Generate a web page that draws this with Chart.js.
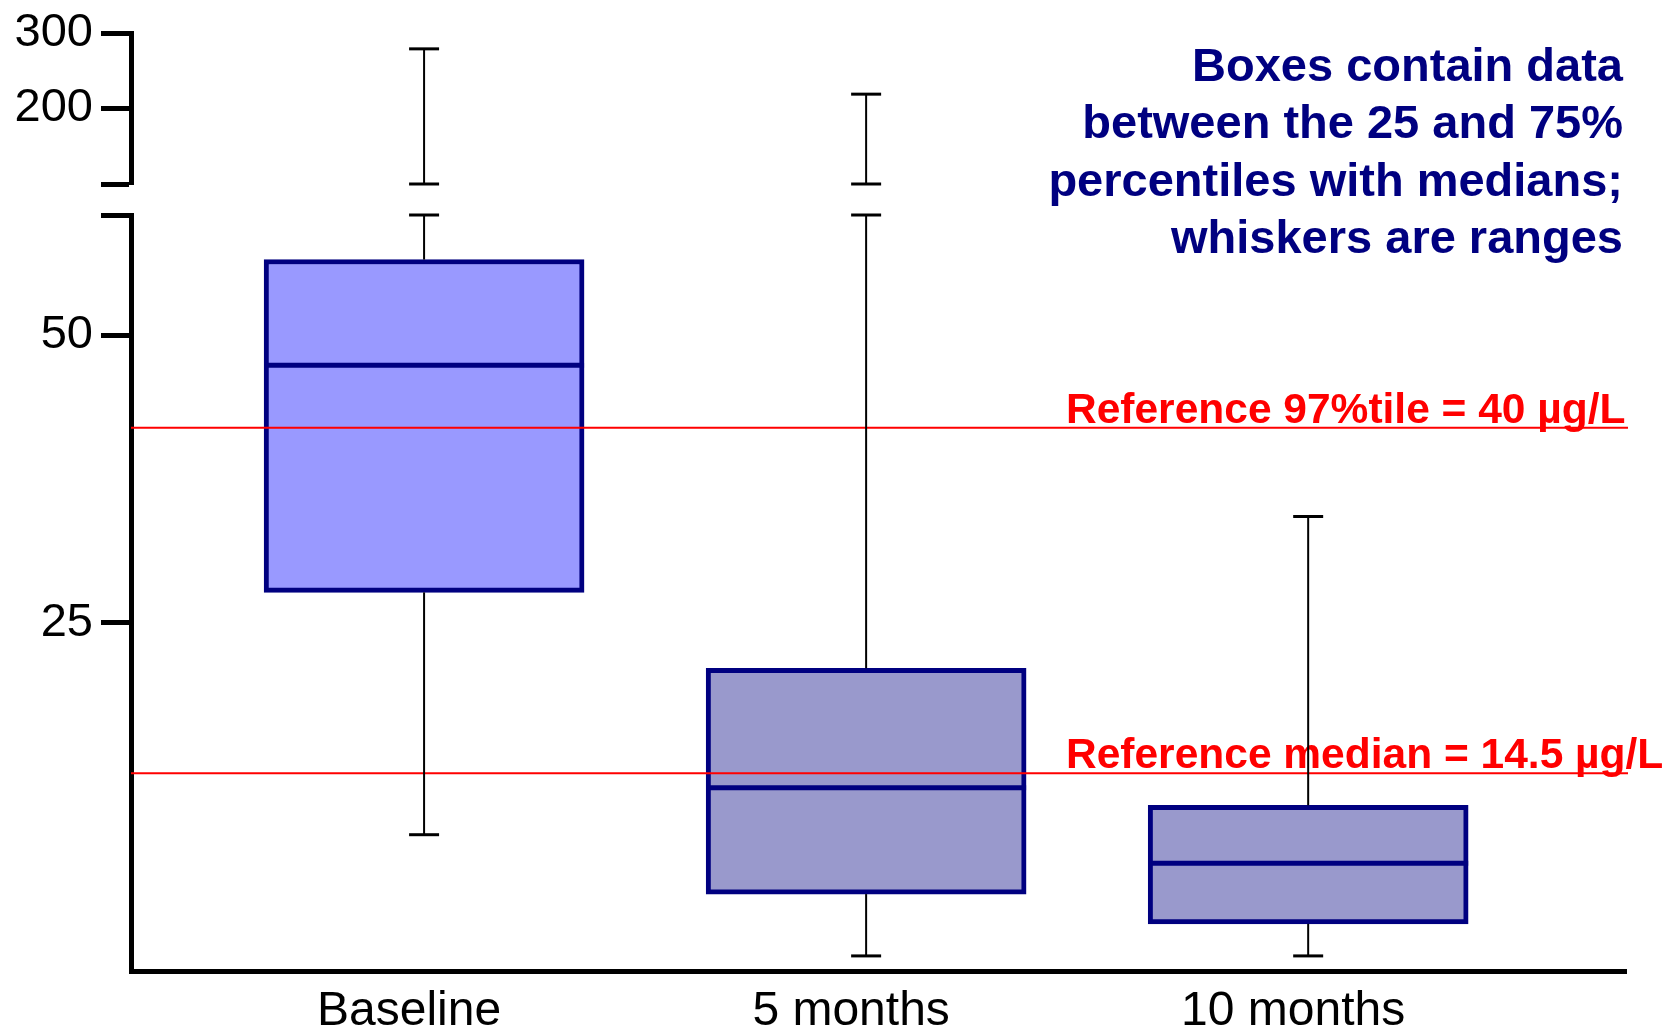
<!DOCTYPE html>
<html>
<head>
<meta charset="utf-8">
<script src="https://cdn.jsdelivr.net/npm/chart.js@4.4.0/dist/chart.umd.min.js"></script>
<style>
    html, body { margin: 0; padding: 0; background: #fff; }
</style>
</head>
<body>
<canvas id="chartBoxes" width="1680" height="1030"></canvas>
<script>
// Data (µg/L)
var categories = ['Baseline', '5 months', '10 months'];
var mins = [15.0, 11.2, 11.2];
var q1 = [26.9, 13.0, 12.1];
var medians = [46.5, 16.8, 14.0];
var q3 = [60.0, 22.4, 16.1];
var maxs = [279, 219, 32.3];

// Reference lines and their labels
var refValues = [40, 17.4];
var refLabels = ['Reference 97%tile = 40 µg/L', 'Reference median = 14.5 µg/L'];
var noteLines = ['Boxes contain data', 'between the 25 and 75%', 'percentiles with medians;', 'whiskers are ranges'];

// Broken axis: upper part linear, lower part log
var topTicks = [100, 200, 300];
var lowTicks = [25, 50];
var lowMin = 10.8, lowMax = 66.8;

var FONT = '"Liberation Sans", Arial, Helvetica, sans-serif';
var myChart = null;

function line(ctx, x1, y1, x2, y2) {
    ctx.beginPath();
    ctx.moveTo(x1, y1);
    ctx.lineTo(x2, y2);
    ctx.stroke();
}

function cap(ctx, x, y) {
    ctx.save();
    ctx.lineWidth = 3;
    line(ctx, x - 15, y, x + 15, y);
    ctx.restore();
}

// medians, reference lines, texts and whiskers
var boxPlugin = {
    id: 'boxPlugin',
    afterDatasetsDraw: function(chart) {
        var ctx = chart.ctx;
        var area = chart.chartArea;
        var xs = chart.scales.x;
        var low = chart.scales.yLow;
        var up = chart.scales.yTop;
        var meta = chart.getDatasetMeta(0);
        ctx.save();

        //medianas
        ctx.strokeStyle = '#000080';
        ctx.lineWidth = 5;
        meta.data.forEach(function(bar, i) {
            var y = low.getPixelForValue(medians[i]);
            line(ctx, bar.x - bar.width / 2, y, bar.x + bar.width / 2, y);
        });

        //lineas de referencia
        ctx.strokeStyle = '#ff0000';
        ctx.lineWidth = 2;
        ctx.fillStyle = '#ff0000';
        ctx.font = 'bold 42.5px ' + FONT;
        ctx.textAlign = 'left';
        ctx.textBaseline = 'alphabetic';
        refValues.forEach(function(v, i) {
            var y = low.getPixelForValue(v);
            line(ctx, area.left, y, area.right + 2, y);
            ctx.fillText(refLabels[i], area.right - 560, y - 5);
        });

        //nota
        ctx.fillStyle = '#000080';
        ctx.font = 'bold 47px ' + FONT;
        ctx.textAlign = 'right';
        noteLines.forEach(function(t, i) {
            ctx.fillText(t, area.right - 3, area.top + 48 + i * 57.4);
        });

        //bigotes
        ctx.strokeStyle = '#000';
        ctx.lineWidth = 2;
        categories.forEach(function(c, i) {
            var x = xs.getPixelForValue(i);
            var yMin = low.getPixelForValue(mins[i]);
            line(ctx, x, low.getPixelForValue(q1[i]), x, yMin);
            cap(ctx, x, yMin);
            if (maxs[i] > low.max) {
                line(ctx, x, low.getPixelForValue(q3[i]), x, low.top);
                cap(ctx, x, low.top);
                var yMax = up.getPixelForValue(maxs[i]);
                line(ctx, x, up.bottom, x, yMax);
                cap(ctx, x, up.bottom);
                cap(ctx, x, yMax);
            } else {
                var yM = low.getPixelForValue(maxs[i]);
                line(ctx, x, low.getPixelForValue(q3[i]), x, yM);
                cap(ctx, x, yM);
            }
        });
        ctx.restore();
    }
};

var yAxisCommon = {
    position: 'left',
    stack: 'y',
    grid: { display: true, drawOnChartArea: false, drawTicks: true, tickLength: 30, tickWidth: 5, tickColor: '#000' },
    border: { display: true, color: '#000', width: 5 },
    ticks: { color: '#000', padding: 8, autoSkip: false, font: { family: FONT, size: 47, lineHeight: 0.9 } },
    afterFit: function(axis) { axis.width = 131; }
};

var ctx = document.getElementById('chartBoxes').getContext('2d');
myChart = new Chart(ctx, {
    type: 'bar',
    data: {
        datasets: [{
            data: categories.map(function(c, i) { return { x: i, y: [q1[i], q3[i]] }; }),
            yAxisID: 'yLow',
            backgroundColor: ['#9999ff', '#9999cc', '#9999cc'],
            borderColor: '#000080',
            borderWidth: 5,
            borderSkipped: false,
            barThickness: 320,
            grouped: false
        }]
    },
    options: {
        responsive: false,
        animation: false,
        devicePixelRatio: 1,
        layout: { padding: { top: 33, right: 54, left: 0, bottom: 0 } },
        plugins: { legend: { display: false }, tooltip: { enabled: false } },
        scales: {
            x: {
                type: 'linear',
                min: -0.663,
                max: 2.719,
                offset: false,
                grid: { display: false, drawTicks: false, offset: false },
                border: { display: true, color: '#000', width: 5 },
                afterBuildTicks: function(axis) {
                    axis.ticks = categories.map(function(c, i) { return { value: i }; });
                },
                ticks: {
                    color: '#000',
                    padding: 12,
                    labelOffset: -15,
                    autoSkip: false,
                    maxRotation: 0,
                    font: { family: FONT, size: 48 },
                    callback: function(v) { return categories[v]; }
                },
                afterFit: function(axis) { axis.height = 59; }
            },
            yLow: Object.assign({}, yAxisCommon, {
                type: 'logarithmic',
                stackWeight: 756,
                min: lowMin,
                max: lowMax,
                afterBuildTicks: function(axis) {
                    axis.ticks = lowTicks.concat([lowMax]).map(function(v) { return { value: v }; });
                },
                ticks: Object.assign({}, yAxisCommon.ticks, {
                    callback: function(v) { return lowTicks.indexOf(v) >= 0 ? String(v) : ''; }
                })
            }),
            yGap: {
                type: 'linear',
                position: 'left',
                stack: 'y',
                stackWeight: 31,
                min: 0,
                max: 1,
                grid: { display: false, drawTicks: false },
                border: { display: false },
                ticks: { display: false },
                afterFit: function(axis) { axis.width = 131; }
            },
            yTop: Object.assign({}, yAxisCommon, {
                type: 'linear',
                stackWeight: 151,
                min: topTicks[0],
                max: topTicks[topTicks.length - 1],
                afterBuildTicks: function(axis) {
                    axis.ticks = topTicks.map(function(v) { return { value: v }; });
                },
                ticks: Object.assign({}, yAxisCommon.ticks, {
                    callback: function(v) { return v === topTicks[0] ? '' : String(v); }
                })
            })
        }
    },
    plugins: [boxPlugin]
});
</script>
</body>
</html>
